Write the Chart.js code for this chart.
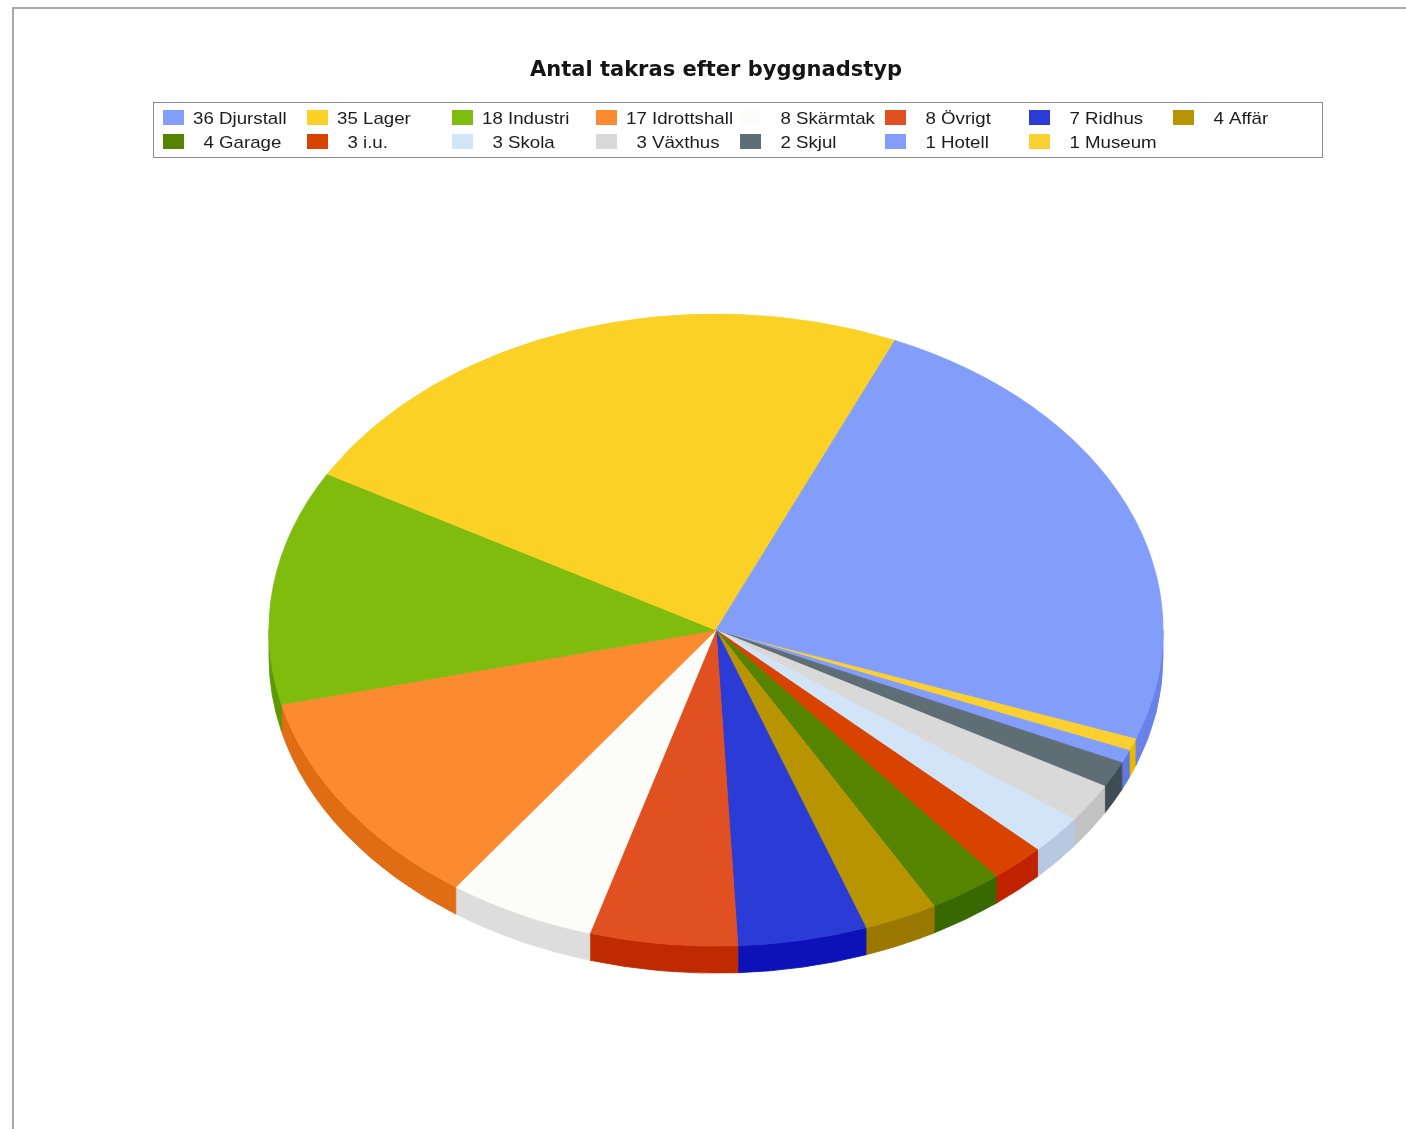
<!DOCTYPE html>
<html>
<head>
<meta charset="utf-8">
<script src="https://cdn.jsdelivr.net/npm/chart.js@4/dist/chart.umd.min.js"></script>
<style>
  html, body { margin: 0; padding: 0; background: #ffffff; }
  #wrap { position: relative; width: 1406px; height: 1129px; overflow: hidden; }
  #frame { position: absolute; left: 12px; top: 7px; right: -10px; bottom: -10px;
           border-left: 2px solid #a9a99d; border-top: 2px solid #a9a99d; pointer-events: none; }
  canvas { position: absolute; left: 0; top: 0; }
</style>
</head>
<body>
<div id="wrap">
  <canvas id="c" width="1406" height="1129"></canvas>
  <div id="frame"></div>
</div>
<script>
// ---- data (legend order) ----
const categories = ['Djurstall','Lager','Industri','Idrottshall','Skärmtak','Övrigt','Ridhus','Affär','Garage','i.u.','Skola','Växthus','Skjul','Hotell','Museum'];
const counts     = [36, 35, 18, 17, 8, 8, 7, 4, 4, 3, 3, 3, 2, 1, 1];
const topColors  = ['#839dfb','#fbd126','#80bc0e','#fb8a30','#fcfcf8','#e05020','#2b3bd6','#b89400','#548400','#d84400','#d2e4f8','#d9d9d9','#5f6e74','#839dfb','#fcd030'];
const sideColors = ['#6a82e8','#d8b000','#5c9a00','#e06c14','#dddddd','#c02a00','#0c12b8','#9a7800','#386800','#c02200','#b6c9e0','#c2c2c2','#3e4c54','#6078e0','#e8b800'];
const chartTitle = 'Antal takras efter byggnadstyp';

// pie is drawn clockwise in reverse legend order
const pieLabels = categories.slice().reverse();
const pieValues = counts.slice().reverse();
const pieTop    = topColors.slice().reverse();
const pieSide   = sideColors.slice().reverse();

const TILT = 316 / 447;   // vertical squash of the pie
const DEPTH = 27;         // thickness in pixels

function pieCenter(chart) {
  const el = chart.getDatasetMeta(0).data[0];
  return { x: el.x, y: el.y, r: el.outerRadius };
}

const pie3d = {
  id: 'pie3d',
  beforeDatasetsDraw(chart) {
    const ctx = chart.ctx;
    const meta = chart.getDatasetMeta(0);
    const c = pieCenter(chart);
    const d = DEPTH / TILT;
    ctx.save();
    ctx.translate(c.x, c.y);
    ctx.scale(1, TILT);
    meta.data.forEach((arc, i) => {
      const s = arc.startAngle, e = arc.endAngle;
      for (let k = -1; k <= 2; k++) {
        const lo = Math.max(s, 2 * Math.PI * k);
        const hi = Math.min(e, 2 * Math.PI * k + Math.PI);
        if (hi <= lo) continue;
        ctx.beginPath();
        ctx.arc(0, 0, c.r, lo, hi, false);
        ctx.lineTo(c.r * Math.cos(hi), c.r * Math.sin(hi) + d);
        ctx.arc(0, d, c.r, hi, lo, true);
        ctx.closePath();
        ctx.fillStyle = pieSide[i];
        ctx.fill();
        ctx.strokeStyle = pieSide[i];
        ctx.lineWidth = 1;
        ctx.stroke();
      }
    });
    ctx.restore();
    // squash the top face drawn by Chart.js
    ctx.save();
    ctx.translate(c.x, c.y);
    ctx.scale(1, TILT);
    ctx.translate(-c.x, -c.y);
  },
  afterDatasetsDraw(chart) {
    chart.ctx.restore();
  }
};

const gridLegend = {
  id: 'gridLegend',
  afterDraw(chart) {
    const ctx = chart.ctx;
    ctx.save();
    ctx.strokeStyle = '#8c8c8c';
    ctx.lineWidth = 1;
    ctx.strokeRect(153.5, 102.5, 1169, 55);
    const colW = 144.3, x0 = 163, rows = [110, 134], cols = 8;
    const font = '17px "Liberation Sans", Arial, sans-serif';
    ctx.font = font;
    const sx = 1.1;
    const digitW = ctx.measureText('00').width * sx;
    categories.forEach((name, i) => {
      const r = Math.floor(i / cols), col = i % cols;
      const bx = Math.round(x0 + col * colW), by = rows[r];
      ctx.fillStyle = topColors[i];
      ctx.fillRect(bx, by, 21, 15);
      const num = String(counts[i]);
      const numW = ctx.measureText(num).width * sx;
      const tx = bx + 30 + (digitW - numW);
      ctx.fillStyle = '#1c1c1c';
      ctx.textBaseline = 'alphabetic';
      ctx.save();
      ctx.translate(tx, by + 13.5);
      ctx.scale(sx, 1);
      ctx.fillText(num + ' ' + name, 0, 0);
      ctx.restore();
    });
    ctx.restore();
  }
};

new Chart(document.getElementById('c'), {
  type: 'pie',
  data: {
    labels: pieLabels,
    datasets: [{
      data: pieValues,
      backgroundColor: pieTop,
      borderColor: pieTop,
      borderWidth: 1,
      radius: 447
    }]
  },
  options: {
    responsive: false,
    animation: false,
    devicePixelRatio: 1,
    rotation: 110,
    events: [],
    layout: { padding: { left: 26, right: 0, top: 0, bottom: 52 } },
    plugins: {
      legend: { display: false },
      tooltip: { enabled: false },
      title: {
        display: true,
        text: chartTitle,
        color: '#151515',
        font: { family: '"DejaVu Sans", sans-serif', size: 21, weight: 'bold' },
        padding: { top: 58, bottom: 100 }
      }
    }
  },
  plugins: [pie3d, gridLegend]
});
</script>
</body>
</html>
